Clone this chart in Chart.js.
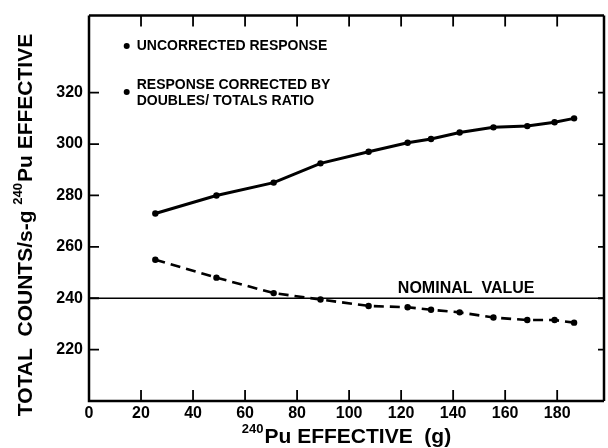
<!DOCTYPE html>
<html><head><meta charset="utf-8">
<script src="https://cdn.jsdelivr.net/npm/chart.js@4/dist/chart.umd.min.js"></script>
<style>html,body{margin:0;padding:0;background:#fff}#wrap{width:608px;height:448px;position:relative}</style>
</head><body><div id="wrap"><canvas id="c" width="608" height="448"></canvas></div>
<script>
// ---- data ----
const pu240Effective = [25.5, 49, 71, 89, 107.5, 122.5, 131.5, 142.5, 155.5, 168.5, 179, 186.5];
const uncorrectedResponse = [273, 280, 285, 292.5, 297, 300.5, 302, 304.5, 306.5, 307, 308.5, 310];
const correctedResponse = [255, 248, 242, 239.5, 237, 236.5, 235.5, 234.5, 232.5, 231.5, 231.5, 230.5];
const nominalValue = 240;
const xTickValues = [0, 20, 40, 60, 80, 100, 120, 140, 160, 180];
const yTickValues = [220, 240, 260, 280, 300, 320];
const xRange = [0, 198];
const yRange = [200, 350];
const legendUncorrected = ['UNCORRECTED RESPONSE'];
const legendCorrected = ['RESPONSE CORRECTED BY', 'DOUBLES/ TOTALS RATIO'];
// titles as [before superscript, superscript, after superscript]
const xTitle = ['', '240', 'Pu EFFECTIVE  (g)'];
const yTitle = ['TOTAL  COUNTS/s-g ', '240', 'Pu EFFECTIVE'];
const nominalLabel = 'NOMINAL  VALUE';

const toPoints = (xs, ys) => xs.map((x, i) => ({x: x, y: ys[i]}));
const FAM = '"Liberation Sans", Arial, sans-serif';

function drawSupText(ctx, parts, cx, cy, size) {
  const big = 'bold ' + size + 'px ' + FAM;
  const small = 'bold ' + Math.round(size * 0.62) + 'px ' + FAM;
  ctx.font = big; const w0 = ctx.measureText(parts[0]).width; const w2 = ctx.measureText(parts[2]).width;
  ctx.font = small; const w1 = ctx.measureText(parts[1]).width + 1;
  let x = cx - (w0 + w1 + w2) / 2;
  ctx.textAlign = 'left';
  ctx.textBaseline = 'middle';
  ctx.font = big; ctx.fillText(parts[0], x, cy); x += w0;
  ctx.font = small; ctx.fillText(parts[1], x, cy - size * 0.38); x += w1;
  ctx.font = big; ctx.fillText(parts[2], x, cy);
}

const framePlugin = {
  id: 'frame',
  afterDraw(chart) {
    const ctx = chart.ctx, a = chart.chartArea;
    const xs = chart.scales.x, ys = chart.scales.y;
    ctx.save();
    ctx.strokeStyle = '#000';
    ctx.lineWidth = 2.5;
    ctx.beginPath();
    ctx.moveTo(a.left, a.top); ctx.lineTo(a.right, a.top);
    ctx.moveTo(a.left, a.top); ctx.lineTo(a.left, a.bottom); ctx.lineTo(a.right, a.bottom);
    ctx.moveTo(a.right, a.top); ctx.lineTo(a.right, a.bottom);
    ctx.stroke();
    ctx.lineWidth = 1.8;
    ctx.beginPath();
    yTickValues.forEach(v => {
      const p = ys.getPixelForValue(v);
      ctx.moveTo(a.left, p); ctx.lineTo(a.left + 10, p);
      ctx.moveTo(a.right, p); ctx.lineTo(a.right - 6, p);
    });
    xTickValues.forEach(v => {
      if (v === xRange[0]) return;
      const p = xs.getPixelForValue(v);
      ctx.moveTo(p, a.bottom); ctx.lineTo(p, a.bottom - 11);
      ctx.moveTo(p, a.top); ctx.lineTo(p, a.top + 11);
    });
    ctx.stroke();

    ctx.fillStyle = '#000';
    // legend
    ctx.font = 'bold 14px ' + FAM;
    ctx.textBaseline = 'middle';
    ctx.textAlign = 'left';
    const lx = xs.getPixelForValue(14.5);
    const tx = lx + 10;
    ctx.beginPath(); ctx.arc(lx, 46, 3, 0, 2 * Math.PI); ctx.fill();
    ctx.fillText(legendUncorrected[0], tx, 46);
    ctx.beginPath(); ctx.arc(lx, 92, 3, 0, 2 * Math.PI); ctx.fill();
    ctx.fillText(legendCorrected[0], tx, 85);
    ctx.fillText(legendCorrected[1], tx, 101);

    // nominal label
    ctx.font = 'bold 16px ' + FAM;
    ctx.textAlign = 'center';
    ctx.textBaseline = 'alphabetic';
    ctx.fillText(nominalLabel, xs.getPixelForValue(145), ys.getPixelForValue(nominalValue) - 5);

    // axis titles
    drawSupText(ctx, xTitle, (a.left + a.right) / 2, 437, 21);
    ctx.save();
    ctx.translate(26, 225);
    ctx.rotate(-Math.PI / 2);
    drawSupText(ctx, yTitle, 0, 0, 21);
    ctx.restore();
    ctx.restore();
  }
};

new Chart(document.getElementById('c'), {
  type: 'scatter',
  data: {
    datasets: [
      {
        label: legendUncorrected[0],
        data: toPoints(pu240Effective, uncorrectedResponse),
        showLine: true, borderColor: '#000', borderWidth: 3,
        pointRadius: 3.2, pointBackgroundColor: '#000', pointBorderWidth: 0
      },
      {
        label: legendCorrected.join(' '),
        data: toPoints(pu240Effective, correctedResponse),
        showLine: true, borderColor: '#000', borderWidth: 2.6, borderDash: [10, 6],
        pointRadius: 3.2, pointBackgroundColor: '#000', pointBorderWidth: 0
      },
      {
        label: nominalLabel,
        data: toPoints(xRange, [nominalValue, nominalValue]),
        showLine: true, borderColor: '#000', borderWidth: 1.6, pointRadius: 0
      }
    ]
  },
  options: {
    responsive: false, animation: false, devicePixelRatio: 1,
    layout: {padding: {top: 12, right: 1, left: 0, bottom: 0}},
    plugins: {legend: {display: false}, tooltip: {enabled: false}},
    scales: {
      x: {
        type: 'linear', min: xRange[0], max: xRange[1],
        grid: {display: false, drawTicks: false}, border: {display: false},
        afterBuildTicks: s => { s.ticks = xTickValues.map(v => ({value: v})); },
        afterFit: s => { s.height = 47; },
        ticks: {color: '#000', font: {family: FAM, size: 16, weight: 'bold'}, padding: 3, maxRotation: 0, autoSkip: false}
      },
      y: {
        type: 'linear', min: yRange[0], max: yRange[1],
        grid: {display: false, drawTicks: false}, border: {display: false},
        afterBuildTicks: s => { s.ticks = yTickValues.map(v => ({value: v})); },
        afterFit: s => { s.width = 89; },
        ticks: {color: '#000', font: {family: FAM, size: 16, weight: 'bold'}, padding: 6, autoSkip: false}
      }
    }
  },
  plugins: [framePlugin]
});
</script>
</body></html>
